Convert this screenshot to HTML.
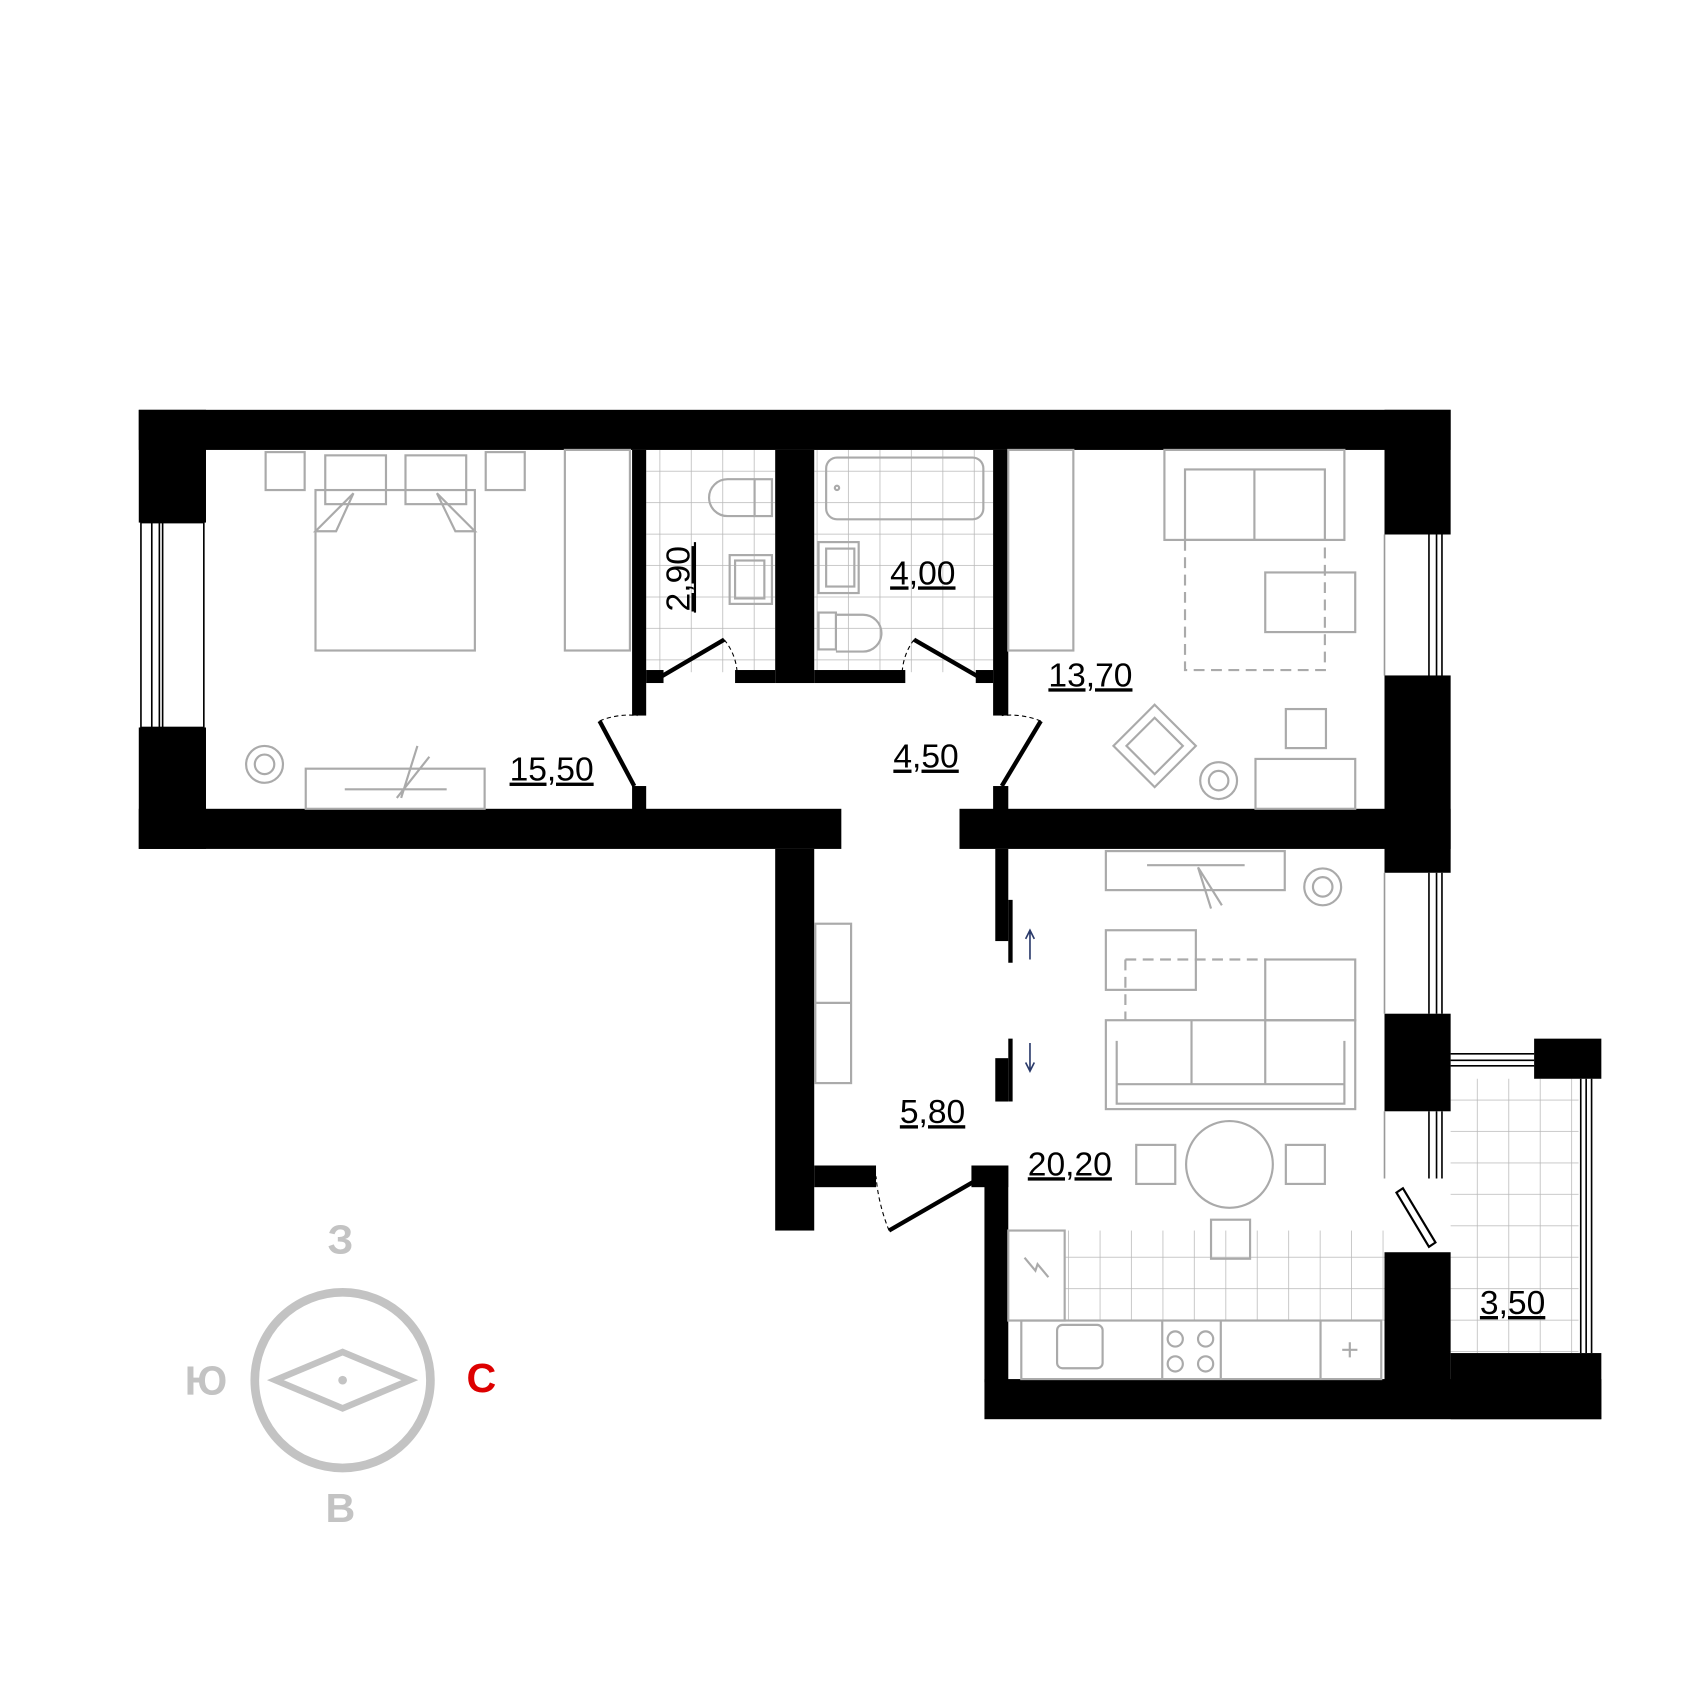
<!DOCTYPE html>
<html><head><meta charset="utf-8"><style>html,body{margin:0;padding:0;background:#fff}svg{display:block}</style></head>
<body>
<svg width="1700" height="1700" viewBox="0 0 1568 1568" xmlns="http://www.w3.org/2000/svg">
<defs>
<pattern id="tile" width="29" height="29" patternUnits="userSpaceOnUse"><path d="M29 0V29H0" fill="none" stroke="#b8b8b8" stroke-width="1.4"/></pattern>
</defs>
<rect width="1568" height="1568" fill="#fff"/>
<rect x="596" y="415" width="119" height="205" fill="url(#tile)"/>
<rect x="751" y="415" width="165" height="205" fill="url(#tile)"/>
<rect x="982" y="1135" width="295" height="83" fill="url(#tile)"/>
<rect x="1338" y="995" width="118" height="253" fill="url(#tile)"/>
<g fill="#000">
<rect x="128" y="378" width="1210" height="37"/>
<rect x="128" y="378" width="62" height="104"/>
<rect x="128" y="671" width="62" height="112"/>
<rect x="128" y="746" width="648" height="37"/>
<rect x="885" y="746" width="453" height="37"/>
<rect x="1277" y="378" width="61" height="115"/>
<rect x="1277" y="623" width="61" height="182"/>
<rect x="1277" y="935" width="61" height="90"/>
<rect x="1277" y="1155" width="61" height="153"/>
<rect x="1415" y="958" width="62" height="37"/>
<rect x="1338" y="1248" width="139" height="61"/>
<rect x="908" y="1272" width="569" height="37"/>
<rect x="715" y="783" width="36" height="352"/>
<rect x="751" y="1075" width="57" height="20"/>
<rect x="896" y="1075" width="34" height="20"/>
<rect x="908" y="1075" width="22" height="200"/>
<rect x="918" y="783" width="12" height="85"/>
<rect x="918" y="976" width="12" height="40"/>
<rect x="583" y="415" width="13" height="245"/>
<rect x="583" y="725" width="13" height="25"/>
<rect x="715" y="415" width="36" height="215"/>
<rect x="678" y="618" width="37" height="12"/>
<rect x="751" y="618" width="84" height="12"/>
<rect x="916" y="415" width="14" height="245"/>
<rect x="916" y="725" width="14" height="25"/>
<rect x="596" y="618" width="16" height="12"/>
<rect x="900" y="618" width="16" height="12"/>
</g>
<g fill="none" stroke="#000" stroke-width="1.5">
<rect x="130" y="482" width="58" height="189" fill="#fff"/><line x1="140" y1="482" x2="140" y2="671"/><line x1="147" y1="482" x2="147" y2="671"/><line x1="150" y1="482" x2="150" y2="671"/>
<line x1="1318" y1="493" x2="1318" y2="623"/><line x1="1325" y1="493" x2="1325" y2="623"/><line x1="1330" y1="493" x2="1330" y2="623"/>
<line x1="1318" y1="805" x2="1318" y2="935"/><line x1="1325" y1="805" x2="1325" y2="935"/><line x1="1330" y1="805" x2="1330" y2="935"/>
<line x1="1318" y1="1025" x2="1318" y2="1087"/><line x1="1325" y1="1025" x2="1325" y2="1087"/><line x1="1330" y1="1025" x2="1330" y2="1087"/>
<line x1="1338" y1="972" x2="1415" y2="972"/><line x1="1338" y1="978" x2="1415" y2="978"/><line x1="1338" y1="983" x2="1415" y2="983"/>
<line x1="1458" y1="995" x2="1458" y2="1248"/><line x1="1463" y1="995" x2="1463" y2="1248"/><line x1="1468" y1="995" x2="1468" y2="1248"/>
<line x1="1277" y1="493" x2="1277" y2="623" stroke="#999"/><line x1="1277" y1="805" x2="1277" y2="935" stroke="#999"/><line x1="1277" y1="1025" x2="1277" y2="1087" stroke="#999"/>
</g>
<g stroke="#000" stroke-width="4" fill="none">
<line x1="610" y1="624" x2="668" y2="590"/>
<line x1="902" y1="624" x2="843" y2="590"/>
<line x1="585" y1="725" x2="553" y2="665"/>
<line x1="924" y1="725" x2="960" y2="665"/>
<line x1="820" y1="1135" x2="898" y2="1090"/>
<line x1="932" y1="830" x2="932" y2="888"/>
<line x1="932" y1="958" x2="932" y2="1016"/>
</g>
<path d="M1288 1100l6-4 30 50-6 4z" fill="#fff" stroke="#000" stroke-width="2"/>
<g stroke="#000" stroke-width="1" fill="none" stroke-dasharray="4 3">
<path d="M668 590 Q680 605 680 624"/><path d="M843 590 Q832 605 832 624"/>
<path d="M553 665 Q570 658 588 660"/><path d="M960 665 Q942 658 924 660"/><path d="M820 1135 Q810 1110 808 1085"/>
</g>
<g stroke="#2a3a6a" stroke-width="1.5" fill="none"><path d="M950 885V858M946 866l4-8 4 8"/><path d="M950 962V988M946 980l4 8 4-8"/></g>
<g fill="none" stroke="#aaa" stroke-width="2">
<rect x="245" y="417" width="36" height="35"/><rect x="448" y="417" width="36" height="35"/>
<rect x="291" y="452" width="147" height="148"/>
<rect x="300" y="420" width="56" height="45"/><rect x="374" y="420" width="56" height="45"/>
<path d="M291 490l35-35 L310 490Z M438 490l-35-35 L420 490Z"/>
<rect x="521" y="415" width="60" height="185"/>
<circle cx="244" cy="705" r="17"/><circle cx="244" cy="705" r="9"/>
<rect x="282" y="709" width="165" height="37"/><path d="M318 728h94M366 736l30-38M370 736l15-48"/>
<rect x="930" y="415" width="60" height="185"/>
<rect x="1074" y="415" width="166" height="83"/><rect x="1093" y="433" width="129" height="65"/><line x1="1157" y1="433" x2="1157" y2="498"/>
<rect x="1167" y="528" width="83" height="55"/>
<path d="M1093 498v120h129v-120" stroke-dasharray="10 6"/>
<path d="M1065 650l38 38-38 38-38-38z"/><path d="M1065 662l26 26-26 26-26-26z"/>
<circle cx="1124" cy="720" r="17"/><circle cx="1124" cy="720" r="9"/>
<rect x="1186" y="654" width="37" height="36"/><rect x="1158" y="700" width="92" height="46"/>
<rect x="1020" y="785" width="165" height="36"/><path d="M1058 798h90M1105 800l22 35M1105 800l12 38"/>
<circle cx="1220" cy="818" r="17"/><circle cx="1220" cy="818" r="9"/>
<rect x="1020" y="858" width="83" height="55"/>
<path d="M1038 885h130M1038 885v56" stroke-dasharray="10 6"/>
<rect x="1167" y="885" width="83" height="56"/>
<rect x="1020" y="941" width="230" height="82"/><path d="M1030 1000h210v18h-210z M1099 941v59 M1167 941v59 M1030 960v40 M1240 960v40"/>
<circle cx="1134" cy="1074" r="40"/>
<rect x="1048" y="1056" width="36" height="36"/><rect x="1186" y="1056" width="36" height="36"/>
<rect x="1117" y="1125" width="36" height="36"/>
<rect x="930" y="1135" width="52" height="83"/><path d="M945 1160l10 12 2-6 10 12"/>
<rect x="942" y="1218" width="332" height="54"/><line x1="1072" y1="1218" x2="1072" y2="1272"/><line x1="1126" y1="1218" x2="1126" y2="1272"/><line x1="1218" y1="1218" x2="1218" y2="1272"/>
<rect x="975" y="1222" width="42" height="40" rx="5"/>
<circle cx="1084" cy="1235" r="7"/><circle cx="1112" cy="1235" r="7"/><circle cx="1084" cy="1258" r="7"/><circle cx="1112" cy="1258" r="7"/>
<path d="M1238 1245h14M1245 1238v14"/>
<rect x="752" y="852" width="33" height="147"/><line x1="752" y1="925" x2="785" y2="925"/>
<rect x="762" y="422" width="145" height="57" rx="10"/><circle cx="772" cy="450" r="2"/>
<rect x="755" y="500" width="37" height="47"/><rect x="762" y="506" width="26" height="35"/>
<rect x="755" y="565" width="16" height="34"/><path d="M771 567h25a17 17 0 0 1 0 34h-25"/>
<rect x="696" y="442" width="16" height="34"/><path d="M696 442h-25a17 17 0 0 0 0 34h25"/>
<rect x="673" y="512" width="39" height="45"/><rect x="678" y="517" width="27" height="35"/>
</g>
<g font-family="Liberation Sans, sans-serif" font-size="31" fill="#000" text-decoration="underline">
<text x="470" y="720">15,50</text>
<text x="821" y="539">4,00</text>
<text x="967" y="633">13,70</text>
<text x="824" y="708">4,50</text>
<text x="830" y="1036">5,80</text>
<text x="948" y="1084">20,20</text>
<text x="1365" y="1212">3,50</text>
<text transform="translate(636,564) rotate(-90)">2,90</text>
</g>
<line x1="641" y1="500" x2="641" y2="565" stroke="#000" stroke-width="2"/>
<circle cx="316" cy="1273" r="81" fill="none" stroke="#c3c3c3" stroke-width="8"/>
<path d="M254 1273l62-26 62 26-62 26z" fill="none" stroke="#c3c3c3" stroke-width="6"/>
<circle cx="316" cy="1273" r="4" fill="#c3c3c3"/>
<g font-family="Liberation Sans, sans-serif" font-weight="bold" font-size="38" fill="#c3c3c3" text-anchor="middle">
<text x="314" y="1156">З</text><text x="190" y="1286">Ю</text><text x="314" y="1404">В</text>
<text x="444" y="1284" fill="#dd0000">С</text>
</g>
</svg>
</body></html>
